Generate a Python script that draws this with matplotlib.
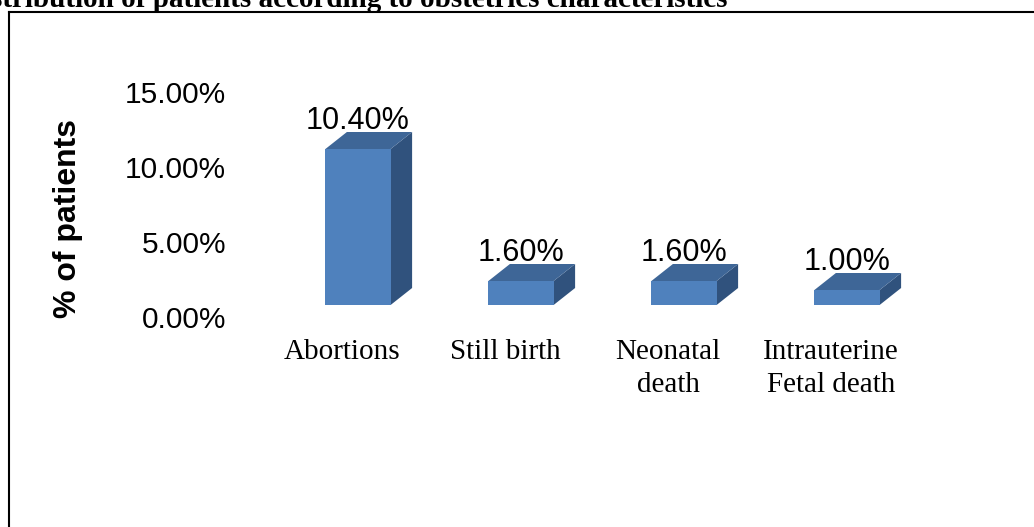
import matplotlib
matplotlib.use("Agg")
import matplotlib.pyplot as plt
from matplotlib.patches import Rectangle, Polygon
from matplotlib.lines import Line2D
from matplotlib.transforms import ScaledTranslation

# Obstetric history data (% of patients)
categories = ["Abortions", "Still birth", "Neonatal\ndeath", "Intrauterine\nFetal death"]
values = [10.40, 1.60, 1.60, 1.00]
value_labels = ["10.40%", "1.60%", "1.60%", "1.00%"]
yticks = [0, 5, 10, 15]
ytick_labels = ["0.00%", "5.00%", "10.00%", "15.00%"]
title = "Distribution of patients according to obstetrics characteristics"

W, H = 1034, 527
fig = plt.figure(figsize=(W / 100, H / 100), dpi=100)
fig.patch.set_facecolor("white")

# axes placed in pixel units (left, bottom from figure bottom)
ax_l, ax_r, ax_top, ax_bot = 240, 1000, 60, 305
ax = fig.add_axes([ax_l / W, (H - ax_bot) / H, (ax_r - ax_l) / W, (ax_bot - ax_top) / H])
ax.set_facecolor("none")

px_per_unit_x = 163.0
px_per_pct = 15.0
x0_px = 358.0
ax.set_xlim((ax_l - x0_px) / px_per_unit_x, (ax_r - x0_px) / px_per_unit_x)
ax.set_ylim(0, (ax_bot - ax_top) / px_per_pct)

front_c = "#4F81BD"
top_c = "#3E6697"
side_c = "#30527D"

bar_w = 0.4
dx = 21.5 / px_per_unit_x
dy = 17.0 / px_per_pct

for i, v in enumerate(values):
    l = i - bar_w / 2
    r = i + bar_w / 2
    ax.add_patch(Polygon([(r, 0), (r + dx, dy), (r + dx, v + dy), (r, v)],
                         closed=True, facecolor=side_c, edgecolor="none", clip_on=False))
    ax.add_patch(Polygon([(l, v), (r, v), (r + dx, v + dy), (l + dx, v + dy)],
                         closed=True, facecolor=top_c, edgecolor="none", clip_on=False))
    ax.add_patch(Rectangle((l, 0), bar_w, v, facecolor=front_c, edgecolor="none", clip_on=False))
    ax.annotate(value_labels[i], xy=(i, v + dy), xytext=(0, 3), textcoords="offset pixels",
                ha="center", va="baseline", fontsize=22, family="Liberation Sans",
                color="black", annotation_clip=False)

for s in ax.spines.values():
    s.set_visible(False)

ax.set_yticks(yticks)
ax.set_yticklabels(ytick_labels, fontsize=21.5, family="Liberation Sans")
ax.tick_params(axis="y", length=0, pad=14 * 0.72)
shift_y = ScaledTranslation(0, -12 / 100, fig.dpi_scale_trans)
for lab in ax.get_yticklabels():
    lab.set_transform(lab.get_transform() + shift_y)

ax.set_xticks(range(len(categories)))
ax.set_xticklabels(categories, fontsize=21, family="Liberation Serif", linespacing=1.36)
ax.tick_params(axis="x", length=0, pad=34 * 0.72)
shift_x = ScaledTranslation(-16 / 100, 0, fig.dpi_scale_trans)
for lab in ax.get_xticklabels():
    lab.set_transform(lab.get_transform() + shift_x)

fig.text(68 / W, (H - 219) / H, "% of patients", rotation=90, ha="center", va="center",
         fontsize=23, fontweight="bold", family="Liberation Sans")

# heading, partly outside the top-left of the canvas
fig.text(727 / W, (H - 7) / H, title, ha="right", va="baseline",
         fontsize=21, fontweight="bold", family="Liberation Serif")

# frame around the chart area
fig.add_artist(Line2D([9 / W, 9 / W], [(H - 12) / H, -0.05], color="black", lw=1.5,
                      transform=fig.transFigure))
fig.add_artist(Line2D([9 / W, 1.05], [(H - 12) / H, (H - 12) / H], color="black", lw=1.5,
                      transform=fig.transFigure))

fig.savefig("out.png", dpi=100, facecolor="white")
